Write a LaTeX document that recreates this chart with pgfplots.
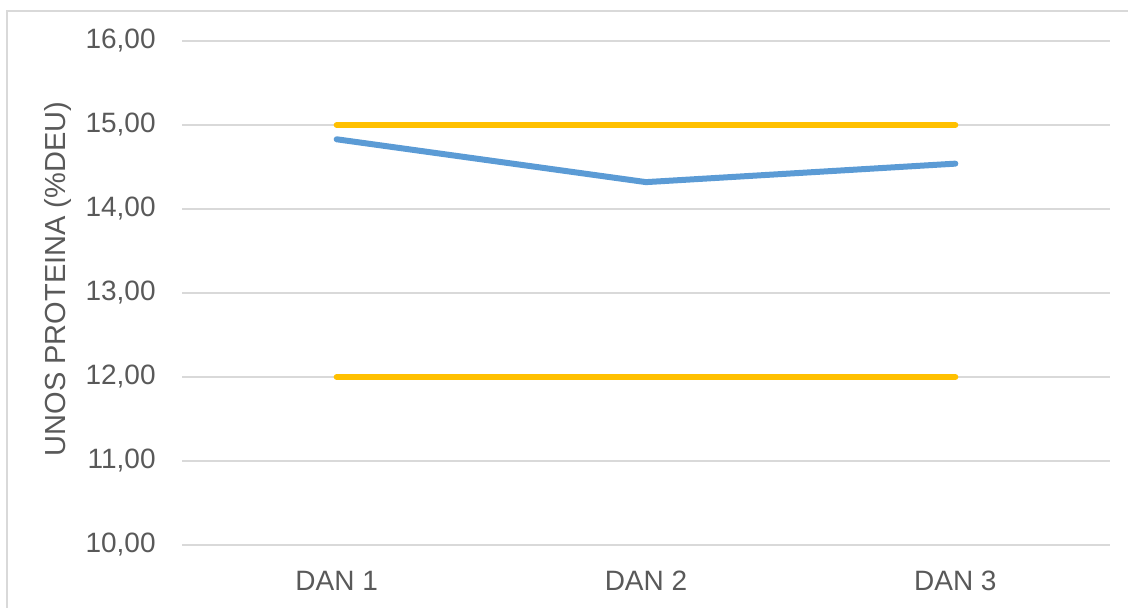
\documentclass[border=0pt]{standalone}
\usepackage{pgfplots}
\pgfplotsset{compat=1.18}
\usepackage{fontspec}
\setmainfont{Liberation Sans}
\definecolor{txt}{HTML}{595959}
\definecolor{gridc}{HTML}{D9D9D9}
\definecolor{blu}{HTML}{5B9BD5}
\definecolor{yel}{HTML}{FFC000}
\begin{document}
\begin{tikzpicture}
\useasboundingbox (0pt,0pt) rectangle (564pt,303.5pt);
\draw[gridc, line width=1pt] (3.5pt,-10pt) -- (3.5pt,298pt) -- (580pt,298pt);
\begin{axis}[
  at={(91pt,31pt)}, anchor=south west,
  scale only axis, width=464pt, height=252pt,
  xmin=-0.5, xmax=2.5, ymin=10, ymax=16,
  xtick={0,1,2}, xticklabels={DAN 1,DAN 2,DAN 3},
  ytick={10,11,12,13,14,15,16},
  axis line style={draw=none},
  major tick length=0pt,
  xmajorgrids=false, ymajorgrids=true, grid style={gridc, line width=1pt},
  tick label style={font=\fontsize{14}{16}\selectfont, text=txt},
  yticklabel style={anchor=east, inner sep=0pt, xshift=-13pt},
  xticklabel style={anchor=base, inner sep=0pt, yshift=-22.5pt},
  /pgf/number format/.cd, fixed, fixed zerofill, precision=2, use comma, assume math mode=true,
]
\addplot[yel, line width=3pt, line cap=round] coordinates {(0,15) (1,15) (2,15)};
\addplot[yel, line width=3pt, line cap=round] coordinates {(0,12) (1,12) (2,12)};
\addplot[blu, line width=3pt, line cap=round, line join=round] coordinates {(0,14.83) (1,14.32) (2,14.54)};
\end{axis}
\node[rotate=90, text=txt, font=\fontsize{14.5}{16}\selectfont, inner sep=0pt] at (29pt,164pt) {UNOS PROTEINA (\%DEU)};
\end{tikzpicture}
\end{document}
